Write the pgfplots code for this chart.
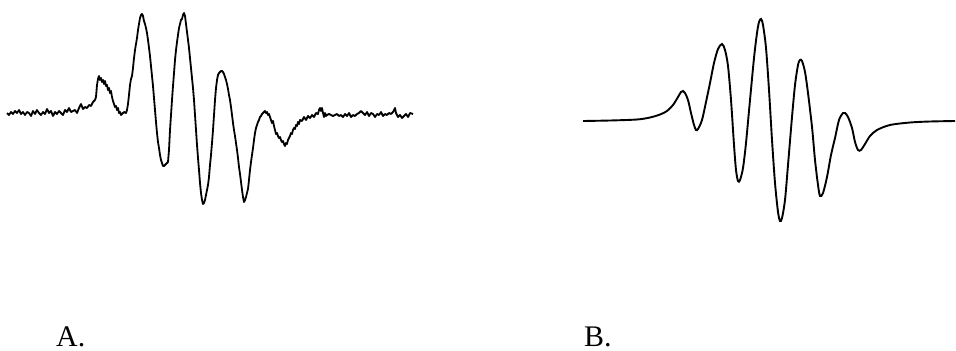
\documentclass[border=0pt]{standalone}
\usepackage{pgfplots}
\pgfplotsset{compat=1.18}
\usepackage{fontspec}
\setmainfont{Liberation Serif}
\begin{document}
\begin{tikzpicture}
\begin{axis}[width=956bp, height=351bp, scale only axis,
  xmin=0, xmax=956, ymin=0, ymax=351, y dir=reverse,
  hide axis, clip=false]
\path (rel axis cs:0,0) rectangle (rel axis cs:1,1);
% Signal A (noisy)
\addplot[black, line width=1.8bp, line join=round] coordinates {
(7,113) (9,115) (11,112) (13,114) (15,111) (17,113) (19,110) (21,114) (23,112) (25,115)
(27,112) (29,113) (31,116) (33,111) (35,114) (37,110) (39,113) (41,115) (43,112) (45,114)
(47,109) (49,113) (51,111) (53,116) (55,112) (57,114) (59,111) (61,113) (63,115) (65,110)
(67,112) (69,108) (71,112) (73,111) (75,110) (77,113) (79,108) (81,104) (83,109) (85,107)
(87,108) (89,105) (91,106) (93,102) (95,100) (96,97) (97,85) (98,79) (99,76) (100,80)
(101,78) (102,82) (103,80) (104,84) (105,81) (106,86) (107,85) (108,90) (109,88) (110,93)
(111,91) (112,97) (113,101) (114,104) (115,107) (116,106) (117,110) (118,108) (119,113) (120,112)
(121,115) (122,114) (124,112) (126,113) (127,110) (128,104) (129,95) (130,85) (131,79) (132,76)
(133,68) (134,58) (135,50) (136,44) (137,38) (138,30) (139,24) (140,18) (141,15) (142,14)
(143,16) (144,21) (145,24) (146,28) (147,33) (148,40) (149,48) (150,56) (151,66) (152,76)
(153,86) (154,98) (155,110) (156,122) (157,133) (158,142) (159,148) (160,155) (161,160) (162,163)
(163,166) (164,166) (166,164) (168,162) (169,150) (170,130) (171,115) (172,100) (173,86) (174,73)
(175,60) (176,50) (177,42) (178,35) (179,28) (180,24) (181,20) (182,19) (183,15) (184,13)
(185,16) (186,24) (187,32) (188,40) (189,48) (190,58) (191,68) (192,78) (193,88) (194,100)
(195,115) (196,130) (197,145) (198,158) (199,170) (200,183) (201,193) (202,200) (203,204) (204,203)
(205,200) (206,195) (207,190) (208,185) (209,177) (210,165) (211,155) (212,143) (213,130) (214,115)
(215,100) (216,88) (217,80) (218,75) (219,73) (220,72) (221,71) (222,71) (223,72) (224,74)
(225,77) (226,80) (227,84) (228,89) (229,95) (230,100) (231,107) (232,115) (233,123) (234,130)
(235,136) (236,143) (237,150) (238,158) (239,167) (240,174) (241,182) (242,190) (243,197) (244,202)
(245,200) (246,197) (247,193) (248,189) (249,180) (250,170) (251,162) (252,155) (253,148) (254,140)
(255,133) (256,128) (257,125) (258,122) (259,120) (260,117) (261,116) (262,114) (263,113) (264,112)
(265,111) (266,113) (267,112) (268,115) (269,114) (270,117) (271,120) (272,123) (273,121) (274,126)
(275,130) (276,134) (277,133) (278,136) (279,138) (280,137) (281,140) (282,142) (283,141) (284,144)
(285,146) (286,143) (287,144) (288,140) (289,138) (290,136) (291,133) (292,134) (293,130) (294,128)
(295,129) (296,125) (297,126) (298,122) (299,124) (300,120) (302,121) (304,117) (306,120) (308,116)
(310,118) (312,115) (314,117) (316,113) (318,114) (319,110) (320,108) (321,111) (322,108) (323,113)
(324,117) (325,113) (326,116) (327,115) (329,114) (331,115) (333,116) (335,115) (337,114) (339,116)
(341,115) (343,117) (345,114) (347,116) (349,113) (351,117) (353,115) (355,116) (357,114) (359,113)
(361,111) (363,113) (365,115) (367,112) (369,116) (371,113) (373,114) (375,117) (377,114) (379,115)
(381,112) (383,116) (385,114) (387,115) (389,113) (391,114) (393,112) (395,108) (396,113) (398,117)
(400,115) (402,118) (404,116) (406,114) (408,117) (410,113) (413,114)
};
% Signal B (smooth)
\addplot[black, line width=1.9bp, smooth, tension=0.5] coordinates {
(583,121) (610,120.5) (637,119.5) (650,117.5) (660,114.5) (667,111) (673,105) (678,97)
(681,92) (683,91) (685,93) (688,100) (691,113) (694,125) (696,130) (698,129) (702,120)
(706,102) (710,83) (714,63) (718,49) (722,44) (725,50) (728,66) (731,100) (734,145)
(736,170) (738,181) (740,180) (743,168) (746,143) (750,100) (754,58) (757,33) (759,22)
(761,19) (763,25) (766,48) (769,90) (772,140) (775,183) (778,212) (780,221) (782,218)
(785,200) (788,165) (792,117) (795,85) (798,65) (800,60) (802,61) (805,72) (808,93)
(812,127) (815,160) (818,185) (820,196) (823,193) (827,177) (831,155) (835,138) (839,120)
(843,113) (845,113) (848,117) (852,128) (855,142) (858,150) (861,150) (865,144) (870,136)
(877,130) (890,125) (910,122.5) (930,121.5) (955,121)
};
\node[anchor=base west, inner sep=0pt, font=\fontsize{30}{36}\selectfont] at (axis cs:56,346) {A.};
\node[anchor=base west, inner sep=0pt, font=\fontsize{30}{36}\selectfont] at (axis cs:584,346) {B.};
\end{axis}
\end{tikzpicture}
\end{document}
